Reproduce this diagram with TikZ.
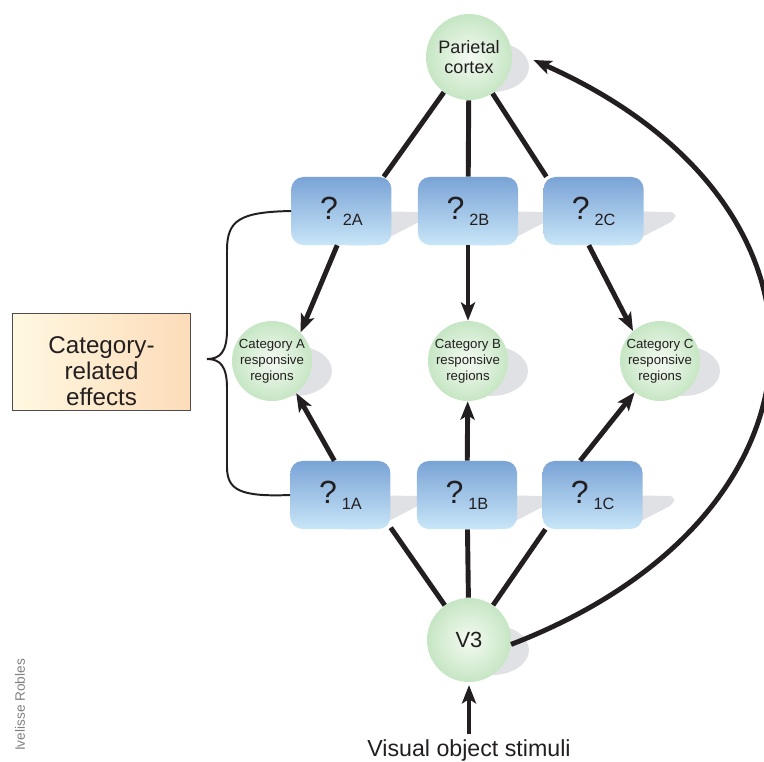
\documentclass[tikz,border=0pt]{standalone}
\usepackage{fontspec}
\setmainfont{Liberation Sans}
\usetikzlibrary{positioning,arrows.meta,shapes,calc,backgrounds}
\definecolor{DarkText}{RGB}{35,31,32}
\definecolor{BoxTop}{RGB}{122,163,214}
\definecolor{BoxBottom}{RGB}{200,230,248}
\definecolor{RegionEdge}{RGB}{198,230,196}
\definecolor{RegionCore}{RGB}{244,250,242}
\definecolor{ShadowGray}{RGB}{224,225,228}
\definecolor{EffectLeft}{RGB}{255,248,225}
\definecolor{EffectRight}{RGB}{252,220,185}
\newcommand{\qmark}[1]{{\fontsize{22.8}{24}\selectfont ?}\hspace{3.5pt}\raisebox{-4.3pt}{\fontsize{11.6}{13}\selectfont #1}}

\begin{document}
\begin{tikzpicture}[x=0.025cm, y=-0.025cm,
    region/.style={circle, inner sep=0pt, minimum size=2cm, align=center, inner color=RegionCore,
        outer color=RegionEdge, text=DarkText, font=\fontsize{9.4}{11.4}\selectfont},
    qbox/.style={rectangle, rounded corners=8.5pt, minimum width=2.5cm, minimum height=1.7cm,
        top color=BoxTop, bottom color=BoxBottom, text=DarkText},
    link/.style={line width=3.5pt, DarkText},
    arr/.style={link, -{Stealth[length=13pt, width=10pt, inset=3pt]}},
    dropshade/.style={fill=ShadowGray},
]
\useasboundingbox (0,0) rectangle (764,762);

\node[region, minimum size=2.15cm, font=\fontsize{12.8}{14.2}\selectfont] (par) at (469,57) {Parietal\\cortex};
\node[qbox] (b2B) at (468,211) {\qmark{2B}};
\node[qbox, left=0.65cm of b2B] (b2A) {\qmark{2A}};
\node[qbox, right=0.625cm of b2B] (b2C) {\qmark{2C}};
\node[region] (catA) at (272,361) {Category A\\responsive\\regions};
\node[region] (catB) at (468,361) {Category B\\responsive\\regions};
\node[region] (catC) at (660,361) {Category C\\responsive\\regions};
\node[qbox] (b1B) at (467,495) {\qmark{1B}};
\node[qbox, left=0.65cm of b1B] (b1A) {\qmark{1A}};
\node[qbox, right=0.625cm of b1B] (b1C) {\qmark{1C}};
\node[region, minimum size=2.1cm, font=\fontsize{15.6}{18}\selectfont] (v3) at (469,640) {V3};
\node[text=DarkText, font=\fontsize{16.5}{19}\selectfont] (stim) at (469,750) {Visual object stimuli};
\node[draw=DarkText!80, line width=0.7pt, left color=EffectLeft, right color=EffectRight,
    minimum width=4.425cm, minimum height=2.4cm, align=center, text=DarkText,
    font=\fontsize{17.2}{18.3}\selectfont] (effects) at (101.5,362) {\rule{0pt}{25pt}Category-\\related\\effects};
\node[rotate=90, text=black!50, font=\fontsize{9.7}{11}\selectfont] (credit) at (20,705) {Ivelisse Robles};

% shadows and plain links sit behind the nodes
\begin{scope}[on background layer]
\foreach \c in {par,catA,catB,catC,v3}
    \fill[dropshade] ($(\c)+(23,10)$) ellipse [x radius=37, y radius=25];
\foreach \b in {b2A,b2B,b2C,b1A,b1B,b1C}
    \fill[dropshade, rounded corners=4pt] (\b.center) -- ($(\b.east)+(32,1)$) -- ($(\b.east)+(31,9)$)
        -- ($(\b.south east)+(-18,0)$) -- (\b.south) -- cycle;
\draw[link] (par) -- (b2A.39);
\draw[link] (par) -- (b2B);
\draw[link] (par) -- (b2C.144);
\draw[link] (v3) -- (b1A.327);
\draw[link] (v3) -- (b1B);
\draw[link] (v3) -- (b1C.216);
\end{scope}

\draw[arr] (b2A.263) -- (catA.45);
\draw[arr] (b2B) -- (catB);
\draw[arr] (b2C.262) -- (catC.132);
\draw[arr] (b1A.100) -- (catA.307);
\draw[arr] (b1B) -- (catB);
\draw[arr] (b1C.110) -- (catC.231);
\draw[arr, shorten >=2pt] (stim) -- (v3);

\coordinate (parin) at ($(par.east)+(21,3)$);
\draw[arr] (v3.-6) .. controls +(332,-128) and +(326,145) .. (parin);

% brace
\coordinate (bracetip) at (207,359);
\draw[line width=1.4pt, DarkText] (b2A.west) .. controls (240,212) and (227,220) .. (227,250) -- (227,330)
    .. controls (227,352) and (220,359) .. (bracetip) .. controls (220,359) and (227,366) .. (227,388)
    -- (227,467) .. controls (227,490) and (240,497) .. (b1A.west);
\end{tikzpicture}
\end{document}
